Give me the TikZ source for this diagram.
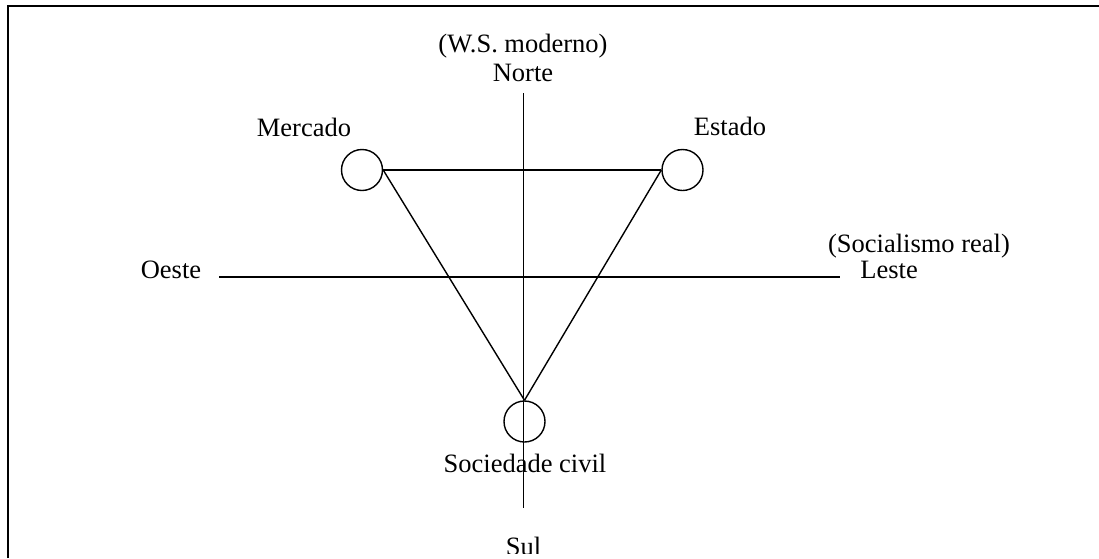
\documentclass[tikz,border=0pt]{standalone}
\usepackage{fontspec}
\setmainfont{Liberation Serif}
\begin{document}
\begin{tikzpicture}[x=0.5pt,y=-0.5pt,
  lbl/.style={font=\fontsize{13.25}{15}\selectfont, inner sep=0pt, anchor=base},
  ring/.style={circle, draw, minimum size=20.5pt, inner sep=0pt, line width=0.7pt},
  ln/.style={line width=0.7pt},
  frame/.style={line width=1pt}]
\useasboundingbox (0,0) rectangle (1099,558);
% frame
\coordinate (fb) at (7.5,558);
\coordinate (ftl) at (7.5,6);
\coordinate (ftr) at (1099,6);
\draw[frame] (fb) -- (ftl) -- (ftr);
% axes
\coordinate (nN) at (523.5,93);
\coordinate (nS) at (523.5,508);
\coordinate (nW) at (219,277);
\coordinate (nE) at (840,277);
\draw[ln] (nN) -- (nS);
\draw[ln] (nW) -- (nE);
% circles
\node[ring] (merc) at (362,170) {};
\node[ring] (est) at (682.5,170) {};
\node[ring] (soc) at (524.5,421.5) {};
\draw[ln] (merc.east) -- (est.west);
\draw[ln] (merc.east) -- (soc.north);
\draw[ln] (est.west) -- (soc.north);
% labels
\node[lbl] (ws) at (523,52) {(W.S. moderno)};
\node[lbl] (norte) at (523,81) {Norte};
\node[lbl] (mercL) at (304,136) {Mercado};
\node[lbl] (estL) at (730,135) {Estado};
\node[lbl] (oeste) at (171,278) {Oeste};
\node[lbl, anchor=base west] (leste) at (860,278) {Leste};
\node[lbl] (socr) at (919,252) {(Socialismo real)};
\node[lbl] (socL) at (525,472) {Sociedade civil};
\begin{scope}
\clip (0,0) rectangle (1099,553);
\node[lbl] (sul) at (523.5,555) {Sul};
\end{scope}
\end{tikzpicture}
\end{document}
